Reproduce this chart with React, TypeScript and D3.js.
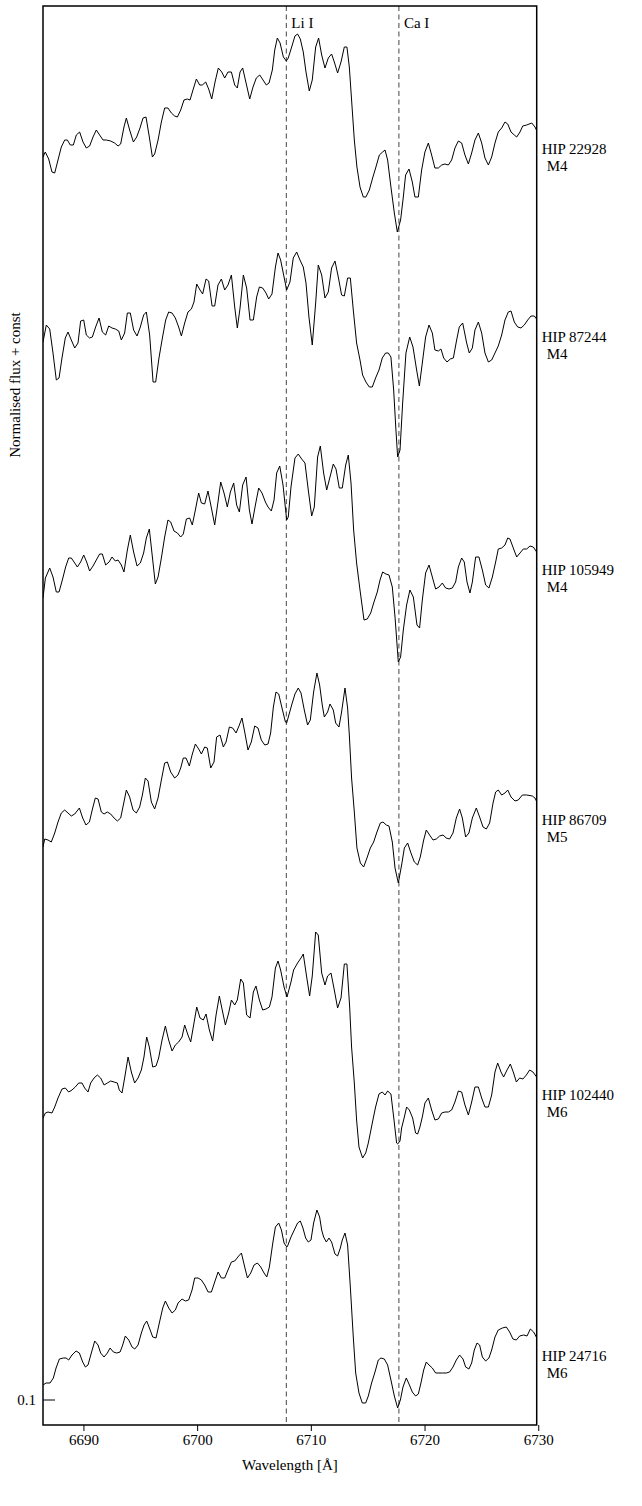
import React from 'react';
import * as d3 from 'd3';

const starNames = ['HIP 22928', 'HIP 87244', 'HIP 105949', 'HIP 86709', 'HIP 102440', 'HIP 24716'];
const spectralTypes = ['M4', 'M4', 'M4', 'M5', 'M6', 'M6'];
const offsets = [0.5, 0.27, 0.07, -0.155, -0.39, -0.61];
const lineNames = ['Li I', 'Ca I'];
const lineWaves = [6707.8, 6717.7];
const xTicks = [6690, 6700, 6710, 6720, 6730];
const yTicks = [0.1];
const xDomain = [6686.4, 6729.82];
const yDomain = [0.075, 1.494];

const hip22928: [number, number][] = [[6686.40,0.843],[6686.60,0.848],[6686.90,0.841],[6687.19,0.828],[6687.43,0.827],[6687.72,0.840],[6688.01,0.853],[6688.31,0.860],[6688.54,0.860],[6688.80,0.855],[6689.07,0.855],[6689.33,0.865],[6689.62,0.868],[6689.92,0.858],[6690.21,0.852],[6690.50,0.854],[6690.80,0.863],[6691.09,0.870],[6691.38,0.865],[6691.68,0.860],[6691.97,0.860],[6692.35,0.859],[6692.70,0.857],[6693.00,0.854],[6693.23,0.856],[6693.52,0.873],[6693.73,0.882],[6694.02,0.870],[6694.35,0.858],[6694.64,0.863],[6694.93,0.872],[6695.20,0.882],[6695.46,0.883],[6695.75,0.863],[6696.02,0.843],[6696.22,0.846],[6696.52,0.860],[6696.81,0.878],[6697.10,0.892],[6697.39,0.892],[6697.69,0.887],[6697.98,0.884],[6698.22,0.883],[6698.51,0.890],[6698.80,0.900],[6699.10,0.901],[6699.33,0.900],[6699.59,0.910],[6699.89,0.921],[6700.18,0.915],[6700.41,0.915],[6700.71,0.918],[6700.97,0.911],[6701.24,0.901],[6701.53,0.918],[6701.82,0.932],[6702.12,0.928],[6702.38,0.922],[6702.67,0.928],[6702.97,0.928],[6703.26,0.915],[6703.49,0.912],[6703.73,0.928],[6703.96,0.932],[6704.26,0.917],[6704.58,0.901],[6704.87,0.913],[6705.16,0.922],[6705.46,0.925],[6705.75,0.920],[6706.04,0.915],[6706.28,0.917],[6706.57,0.930],[6706.78,0.950],[6707.01,0.962],[6707.25,0.957],[6707.54,0.943],[6707.80,0.939],[6707.97,0.942],[6708.27,0.953],[6708.56,0.964],[6708.79,0.966],[6709.03,0.961],[6709.29,0.948],[6709.53,0.928],[6709.82,0.909],[6710.08,0.920],[6710.38,0.953],[6710.64,0.962],[6710.91,0.945],[6711.20,0.932],[6711.49,0.942],[6711.78,0.946],[6712.02,0.938],[6712.31,0.927],[6712.61,0.938],[6712.90,0.953],[6713.13,0.953],[6713.34,0.933],[6713.54,0.900],[6713.78,0.860],[6714.01,0.833],[6714.28,0.813],[6714.57,0.803],[6714.80,0.803],[6715.10,0.810],[6715.39,0.822],[6715.68,0.833],[6715.98,0.845],[6716.27,0.848],[6716.48,0.850],[6716.71,0.840],[6717.00,0.813],[6717.30,0.787],[6717.56,0.768],[6717.85,0.780],[6718.09,0.803],[6718.29,0.825],[6718.59,0.831],[6718.88,0.818],[6719.11,0.803],[6719.41,0.803],[6719.70,0.830],[6719.99,0.848],[6720.29,0.857],[6720.58,0.845],[6720.87,0.832],[6721.17,0.832],[6721.46,0.835],[6721.75,0.836],[6722.05,0.835],[6722.34,0.840],[6722.63,0.852],[6722.93,0.859],[6723.22,0.857],[6723.51,0.845],[6723.81,0.836],[6724.10,0.847],[6724.39,0.860],[6724.69,0.867],[6724.98,0.857],[6725.27,0.842],[6725.57,0.835],[6725.86,0.843],[6726.15,0.857],[6726.44,0.868],[6726.74,0.872],[6727.03,0.878],[6727.27,0.876],[6727.56,0.868],[6727.85,0.865],[6728.06,0.863],[6728.35,0.868],[6728.59,0.874],[6728.94,0.875],[6729.38,0.877],[6729.67,0.873],[6729.88,0.868]];

const hip87244: [number, number][] = [[6686.40,0.888],[6686.69,0.905],[6686.99,0.901],[6687.28,0.877],[6687.57,0.850],[6687.81,0.852],[6688.07,0.872],[6688.36,0.892],[6688.60,0.898],[6688.89,0.890],[6689.19,0.882],[6689.48,0.887],[6689.71,0.909],[6689.98,0.910],[6690.21,0.895],[6690.50,0.892],[6690.74,0.893],[6691.03,0.903],[6691.33,0.912],[6691.62,0.898],[6691.91,0.895],[6692.18,0.904],[6692.47,0.902],[6692.76,0.901],[6693.06,0.899],[6693.29,0.890],[6693.58,0.897],[6693.82,0.917],[6694.08,0.917],[6694.37,0.900],[6694.67,0.894],[6694.96,0.903],[6695.25,0.915],[6695.49,0.918],[6695.78,0.895],[6696.08,0.848],[6696.31,0.848],[6696.60,0.872],[6696.90,0.892],[6697.19,0.910],[6697.45,0.918],[6697.75,0.917],[6698.04,0.912],[6698.33,0.903],[6698.57,0.894],[6698.86,0.907],[6699.15,0.918],[6699.45,0.921],[6699.68,0.928],[6699.92,0.946],[6700.21,0.940],[6700.44,0.936],[6700.74,0.951],[6700.97,0.949],[6701.27,0.924],[6701.50,0.924],[6701.79,0.945],[6702.09,0.951],[6702.38,0.940],[6702.67,0.945],[6702.97,0.955],[6703.26,0.923],[6703.49,0.902],[6703.73,0.922],[6704.02,0.955],[6704.31,0.942],[6704.61,0.910],[6704.90,0.910],[6705.19,0.933],[6705.43,0.943],[6705.72,0.942],[6706.01,0.937],[6706.25,0.931],[6706.54,0.936],[6706.84,0.963],[6707.07,0.977],[6707.30,0.970],[6707.60,0.953],[6707.83,0.940],[6708.12,0.948],[6708.41,0.972],[6708.71,0.978],[6709.00,0.970],[6709.29,0.963],[6709.53,0.947],[6709.79,0.913],[6710.08,0.885],[6710.38,0.927],[6710.61,0.965],[6710.91,0.955],[6711.20,0.932],[6711.49,0.938],[6711.78,0.962],[6712.08,0.969],[6712.37,0.953],[6712.66,0.935],[6712.90,0.934],[6713.19,0.952],[6713.43,0.952],[6713.69,0.920],[6713.98,0.887],[6714.28,0.870],[6714.51,0.855],[6714.80,0.848],[6715.10,0.843],[6715.36,0.843],[6715.65,0.852],[6715.95,0.860],[6716.24,0.872],[6716.53,0.877],[6716.77,0.877],[6717.00,0.873],[6717.24,0.840],[6717.44,0.800],[6717.59,0.773],[6717.80,0.780],[6718.03,0.827],[6718.32,0.877],[6718.65,0.893],[6718.94,0.883],[6719.26,0.860],[6719.50,0.844],[6719.76,0.867],[6720.05,0.893],[6720.35,0.905],[6720.64,0.897],[6720.87,0.880],[6721.17,0.879],[6721.40,0.881],[6721.64,0.872],[6721.93,0.868],[6722.22,0.871],[6722.49,0.872],[6722.78,0.890],[6723.01,0.903],[6723.31,0.907],[6723.66,0.887],[6723.89,0.877],[6724.16,0.882],[6724.39,0.900],[6724.69,0.908],[6724.98,0.897],[6725.27,0.877],[6725.57,0.868],[6725.86,0.870],[6726.15,0.877],[6726.44,0.884],[6726.74,0.895],[6727.03,0.910],[6727.32,0.918],[6727.56,0.919],[6727.85,0.908],[6728.15,0.903],[6728.44,0.902],[6728.73,0.905],[6729.03,0.910],[6729.32,0.914],[6729.61,0.914],[6729.88,0.910]];

const hip105949: [number, number][] = [[6686.40,0.832],[6686.61,0.852],[6686.99,0.862],[6687.28,0.853],[6687.57,0.838],[6687.81,0.838],[6688.10,0.850],[6688.39,0.863],[6688.66,0.872],[6688.89,0.872],[6689.19,0.867],[6689.42,0.863],[6689.71,0.868],[6689.98,0.875],[6690.24,0.868],[6690.50,0.859],[6690.80,0.864],[6691.09,0.870],[6691.38,0.876],[6691.62,0.876],[6691.91,0.865],[6692.21,0.868],[6692.47,0.873],[6692.76,0.869],[6693.00,0.870],[6693.29,0.865],[6693.52,0.858],[6693.82,0.880],[6694.08,0.895],[6694.37,0.878],[6694.67,0.864],[6694.96,0.867],[6695.25,0.877],[6695.49,0.892],[6695.75,0.901],[6696.02,0.873],[6696.28,0.846],[6696.52,0.853],[6696.81,0.872],[6697.10,0.893],[6697.39,0.910],[6697.63,0.908],[6697.92,0.899],[6698.22,0.897],[6698.51,0.893],[6698.74,0.896],[6699.01,0.911],[6699.30,0.912],[6699.53,0.905],[6699.80,0.920],[6700.09,0.937],[6700.33,0.927],[6700.62,0.926],[6700.91,0.939],[6701.21,0.922],[6701.50,0.905],[6701.79,0.928],[6702.03,0.948],[6702.32,0.937],[6702.61,0.923],[6702.88,0.938],[6703.17,0.947],[6703.43,0.925],[6703.67,0.918],[6703.96,0.945],[6704.26,0.953],[6704.55,0.920],[6704.78,0.906],[6705.08,0.925],[6705.37,0.942],[6705.66,0.937],[6705.96,0.928],[6706.19,0.923],[6706.48,0.919],[6706.72,0.930],[6706.95,0.957],[6707.22,0.964],[6707.51,0.945],[6707.83,0.910],[6707.97,0.913],[6708.21,0.943],[6708.56,0.972],[6708.85,0.976],[6709.15,0.971],[6709.44,0.967],[6709.73,0.940],[6710.03,0.914],[6710.26,0.923],[6710.55,0.973],[6710.79,0.984],[6711.08,0.957],[6711.35,0.940],[6711.64,0.953],[6711.93,0.966],[6712.17,0.961],[6712.46,0.942],[6712.72,0.942],[6713.02,0.965],[6713.25,0.975],[6713.49,0.947],[6713.72,0.900],[6713.98,0.867],[6714.28,0.840],[6714.63,0.810],[6714.92,0.811],[6715.22,0.817],[6715.51,0.828],[6715.80,0.838],[6716.04,0.850],[6716.27,0.858],[6716.56,0.856],[6716.83,0.855],[6717.12,0.843],[6717.36,0.813],[6717.65,0.768],[6717.85,0.773],[6718.09,0.800],[6718.38,0.825],[6718.67,0.840],[6718.97,0.833],[6719.29,0.805],[6719.52,0.802],[6719.76,0.830],[6720.05,0.857],[6720.35,0.865],[6720.64,0.853],[6720.93,0.841],[6721.23,0.843],[6721.52,0.847],[6721.81,0.842],[6722.11,0.841],[6722.40,0.842],[6722.69,0.848],[6722.93,0.863],[6723.22,0.872],[6723.45,0.868],[6723.69,0.848],[6723.95,0.837],[6724.16,0.848],[6724.45,0.873],[6724.74,0.873],[6725.04,0.860],[6725.33,0.845],[6725.62,0.842],[6725.92,0.853],[6726.21,0.868],[6726.44,0.881],[6726.74,0.882],[6727.03,0.885],[6727.27,0.892],[6727.47,0.891],[6727.76,0.882],[6728.06,0.873],[6728.35,0.877],[6728.64,0.881],[6728.94,0.881],[6729.23,0.884],[6729.52,0.883],[6729.88,0.877]];

const hip86709: [number, number][] = [[6686.40,0.808],[6686.55,0.816],[6686.84,0.815],[6687.13,0.813],[6687.43,0.822],[6687.72,0.833],[6688.01,0.842],[6688.31,0.845],[6688.60,0.842],[6688.89,0.839],[6689.19,0.841],[6689.60,0.847],[6689.89,0.837],[6690.18,0.830],[6690.48,0.833],[6690.77,0.847],[6691.00,0.857],[6691.24,0.856],[6691.53,0.843],[6691.77,0.841],[6692.06,0.843],[6692.35,0.841],[6692.65,0.837],[6692.94,0.834],[6693.23,0.837],[6693.52,0.853],[6693.73,0.865],[6694.02,0.858],[6694.32,0.845],[6694.61,0.842],[6694.90,0.848],[6695.14,0.860],[6695.40,0.877],[6695.64,0.874],[6695.93,0.853],[6696.22,0.846],[6696.52,0.857],[6696.81,0.875],[6697.10,0.892],[6697.34,0.893],[6697.63,0.883],[6697.98,0.877],[6698.27,0.880],[6698.51,0.887],[6698.74,0.897],[6698.98,0.897],[6699.27,0.889],[6699.51,0.900],[6699.80,0.911],[6700.09,0.906],[6700.33,0.901],[6700.62,0.908],[6700.85,0.907],[6701.15,0.887],[6701.44,0.893],[6701.67,0.918],[6701.97,0.920],[6702.26,0.908],[6702.50,0.913],[6702.79,0.928],[6703.08,0.927],[6703.38,0.922],[6703.67,0.930],[6703.90,0.937],[6704.14,0.923],[6704.43,0.905],[6704.72,0.913],[6705.02,0.929],[6705.31,0.927],[6705.60,0.915],[6705.90,0.910],[6706.19,0.911],[6706.42,0.922],[6706.66,0.948],[6706.89,0.963],[6707.13,0.961],[6707.42,0.947],[6707.72,0.933],[6707.83,0.932],[6708.27,0.950],[6708.56,0.961],[6708.85,0.967],[6709.09,0.962],[6709.38,0.945],[6709.67,0.930],[6709.91,0.935],[6710.20,0.963],[6710.49,0.982],[6710.73,0.970],[6710.96,0.950],[6711.14,0.938],[6711.43,0.943],[6711.64,0.951],[6711.93,0.945],[6712.14,0.932],[6712.43,0.928],[6712.66,0.943],[6712.96,0.967],[6713.19,0.947],[6713.34,0.920],[6713.54,0.877],[6713.78,0.843],[6714.01,0.807],[6714.31,0.792],[6714.60,0.788],[6714.89,0.797],[6715.19,0.807],[6715.48,0.813],[6715.77,0.823],[6716.07,0.832],[6716.30,0.833],[6716.59,0.830],[6716.83,0.829],[6717.12,0.813],[6717.36,0.787],[6717.65,0.772],[6717.94,0.790],[6718.18,0.807],[6718.47,0.812],[6718.76,0.802],[6719.06,0.793],[6719.35,0.790],[6719.58,0.798],[6719.88,0.815],[6720.11,0.825],[6720.40,0.820],[6720.70,0.815],[6720.99,0.816],[6721.28,0.819],[6721.58,0.820],[6721.87,0.817],[6722.16,0.816],[6722.46,0.822],[6722.75,0.837],[6723.04,0.846],[6723.28,0.837],[6723.57,0.818],[6723.86,0.822],[6724.16,0.837],[6724.51,0.847],[6724.80,0.838],[6725.10,0.828],[6725.39,0.826],[6725.68,0.832],[6725.98,0.852],[6726.21,0.863],[6726.44,0.865],[6726.74,0.860],[6727.03,0.862],[6727.27,0.865],[6727.56,0.858],[6727.91,0.854],[6728.20,0.855],[6728.56,0.860],[6728.94,0.860],[6729.44,0.859],[6729.67,0.857],[6729.88,0.852]];

const hip102440: [number, number][] = [[6686.40,0.772],[6686.61,0.777],[6686.84,0.778],[6687.19,0.777],[6687.43,0.783],[6687.72,0.792],[6688.07,0.801],[6688.36,0.802],[6688.66,0.798],[6688.95,0.800],[6689.24,0.803],[6689.54,0.807],[6689.83,0.807],[6690.06,0.802],[6690.36,0.798],[6690.59,0.807],[6690.89,0.812],[6691.18,0.815],[6691.47,0.812],[6691.77,0.805],[6692.06,0.807],[6692.35,0.809],[6692.65,0.808],[6692.94,0.807],[6693.11,0.800],[6693.35,0.797],[6693.58,0.812],[6693.88,0.833],[6694.17,0.818],[6694.46,0.807],[6694.76,0.812],[6695.05,0.820],[6695.28,0.833],[6695.52,0.853],[6695.75,0.843],[6696.05,0.823],[6696.34,0.824],[6696.57,0.832],[6696.87,0.850],[6697.16,0.864],[6697.45,0.850],[6697.75,0.839],[6698.04,0.845],[6698.33,0.848],[6698.63,0.853],[6698.86,0.865],[6699.15,0.855],[6699.39,0.848],[6699.68,0.867],[6699.92,0.883],[6700.21,0.872],[6700.50,0.870],[6700.74,0.876],[6701.03,0.860],[6701.32,0.849],[6701.62,0.875],[6701.91,0.894],[6702.20,0.878],[6702.44,0.865],[6702.73,0.877],[6702.97,0.890],[6703.26,0.885],[6703.49,0.890],[6703.79,0.911],[6704.02,0.907],[6704.31,0.875],[6704.61,0.872],[6704.90,0.898],[6705.13,0.904],[6705.43,0.890],[6705.72,0.880],[6706.01,0.881],[6706.31,0.883],[6706.54,0.893],[6706.84,0.922],[6707.07,0.929],[6707.30,0.920],[6707.60,0.903],[6707.86,0.893],[6708.21,0.908],[6708.44,0.920],[6708.79,0.927],[6709.09,0.932],[6709.29,0.936],[6709.59,0.913],[6709.85,0.894],[6710.08,0.914],[6710.38,0.958],[6710.61,0.955],[6710.91,0.917],[6711.20,0.905],[6711.43,0.914],[6711.73,0.917],[6712.02,0.900],[6712.31,0.882],[6712.61,0.892],[6712.90,0.926],[6713.13,0.926],[6713.37,0.883],[6713.54,0.843],[6713.78,0.807],[6713.98,0.770],[6714.19,0.743],[6714.51,0.732],[6714.78,0.737],[6715.01,0.747],[6715.24,0.760],[6715.45,0.772],[6715.65,0.783],[6715.95,0.796],[6716.24,0.798],[6716.48,0.795],[6716.71,0.799],[6717.00,0.796],[6717.24,0.773],[6717.50,0.747],[6717.59,0.746],[6717.80,0.749],[6717.94,0.762],[6718.18,0.773],[6718.38,0.783],[6718.62,0.780],[6718.91,0.772],[6719.17,0.757],[6719.35,0.756],[6719.55,0.763],[6719.76,0.773],[6719.99,0.787],[6720.29,0.792],[6720.58,0.780],[6720.87,0.770],[6721.17,0.771],[6721.46,0.777],[6721.75,0.778],[6722.05,0.778],[6722.34,0.780],[6722.63,0.788],[6722.93,0.799],[6723.22,0.798],[6723.51,0.785],[6723.81,0.775],[6724.10,0.788],[6724.39,0.803],[6724.69,0.803],[6724.98,0.792],[6725.27,0.783],[6725.57,0.783],[6725.86,0.795],[6726.15,0.818],[6726.39,0.827],[6726.68,0.818],[6726.91,0.813],[6727.21,0.820],[6727.50,0.826],[6727.79,0.817],[6728.03,0.808],[6728.32,0.812],[6728.61,0.811],[6728.91,0.815],[6729.20,0.820],[6729.49,0.818],[6729.88,0.812]];

const hip24716: [number, number][] = [[6686.40,0.725],[6686.67,0.727],[6687.02,0.727],[6687.31,0.732],[6687.55,0.742],[6687.84,0.751],[6688.19,0.752],[6688.43,0.752],[6688.66,0.750],[6688.95,0.755],[6689.31,0.759],[6689.60,0.757],[6689.89,0.748],[6690.13,0.743],[6690.36,0.745],[6690.65,0.757],[6690.95,0.769],[6691.24,0.765],[6691.47,0.757],[6691.77,0.753],[6692.06,0.757],[6692.30,0.762],[6692.59,0.758],[6692.88,0.757],[6693.18,0.758],[6693.41,0.765],[6693.64,0.774],[6693.94,0.770],[6694.23,0.763],[6694.47,0.761],[6694.76,0.765],[6695.05,0.777],[6695.29,0.785],[6695.52,0.789],[6695.76,0.782],[6696.05,0.773],[6696.34,0.772],[6696.63,0.787],[6696.93,0.802],[6697.16,0.809],[6697.46,0.802],[6697.75,0.797],[6698.04,0.800],[6698.28,0.807],[6698.63,0.811],[6698.92,0.809],[6699.21,0.810],[6699.51,0.820],[6699.74,0.832],[6700.04,0.832],[6700.33,0.830],[6700.62,0.825],[6700.92,0.818],[6701.21,0.818],[6701.50,0.828],[6701.80,0.838],[6702.09,0.832],[6702.38,0.832],[6702.67,0.840],[6702.97,0.848],[6703.26,0.849],[6703.61,0.854],[6703.85,0.857],[6704.14,0.843],[6704.38,0.832],[6704.67,0.837],[6704.96,0.845],[6705.26,0.847],[6705.55,0.843],[6705.84,0.837],[6706.08,0.833],[6706.31,0.843],[6706.61,0.867],[6706.84,0.883],[6707.13,0.887],[6707.37,0.880],[6707.60,0.867],[6707.84,0.863],[6707.91,0.864],[6708.21,0.873],[6708.50,0.880],[6708.79,0.887],[6709.03,0.889],[6709.26,0.882],[6709.50,0.872],[6709.73,0.868],[6709.97,0.870],[6710.20,0.887],[6710.49,0.900],[6710.73,0.893],[6710.91,0.880],[6711.08,0.873],[6711.32,0.868],[6711.55,0.872],[6711.78,0.868],[6712.08,0.856],[6712.31,0.854],[6712.55,0.862],[6712.72,0.870],[6712.96,0.877],[6713.19,0.865],[6713.43,0.823],[6713.69,0.773],[6713.90,0.737],[6714.19,0.717],[6714.48,0.707],[6714.78,0.707],[6715.01,0.714],[6715.30,0.727],[6715.60,0.738],[6715.89,0.750],[6716.12,0.752],[6716.42,0.751],[6716.71,0.745],[6717.00,0.730],[6717.30,0.714],[6717.59,0.702],[6717.83,0.710],[6718.06,0.723],[6718.35,0.732],[6718.59,0.726],[6718.88,0.718],[6719.17,0.714],[6719.41,0.716],[6719.64,0.727],[6719.88,0.740],[6720.11,0.748],[6720.35,0.745],[6720.64,0.742],[6720.93,0.737],[6721.23,0.737],[6721.52,0.737],[6721.87,0.737],[6722.16,0.738],[6722.46,0.743],[6722.75,0.750],[6723.04,0.755],[6723.34,0.751],[6723.57,0.743],[6723.86,0.741],[6724.10,0.747],[6724.33,0.760],[6724.57,0.767],[6724.80,0.765],[6725.04,0.753],[6725.33,0.749],[6725.62,0.752],[6725.86,0.760],[6726.15,0.773],[6726.44,0.780],[6726.80,0.782],[6727.15,0.783],[6727.44,0.778],[6727.73,0.771],[6728.03,0.770],[6728.32,0.774],[6728.67,0.775],[6728.97,0.774],[6729.26,0.781],[6729.55,0.778],[6729.88,0.771]];

const spectra = [hip22928, hip87244, hip105949, hip86709, hip102440, hip24716];

const W = 642;
const H = 1506;
const plotLeft = 43;
const plotRight = 536.7;
const plotTop = 6;
const plotBottom = 1425;
const FONT = '"Liberation Serif", "Times New Roman", serif';

export default function App() {
  const x = d3.scaleLinear().domain(xDomain).range([plotLeft, plotRight]);
  const y = d3.scaleLinear().domain(yDomain).range([plotBottom, plotTop]);

  const lineGen = (off: number) =>
    d3
      .line<[number, number]>()
      .x((d) => x(d[0]))
      .y((d) => y(d[1] + off));

  const txt = { fontFamily: FONT, fontSize: 15, fill: '#000' } as const;

  return (
    <svg
      width={W}
      height={H}
      style={{ position: 'absolute', left: 0, top: 0, display: 'block', background: '#fff' }}
    >
      <defs>
        <clipPath id="plotClip">
          <rect x={plotLeft} y={plotTop} width={plotRight - plotLeft} height={plotBottom - plotTop} />
        </clipPath>
      </defs>
      <rect x={0} y={0} width={W} height={H} fill="#fff" />

      {lineWaves.map((w, i) => (
        <g key={lineNames[i]}>
          <line
            x1={x(w)}
            x2={x(w)}
            y1={plotTop}
            y2={plotBottom}
            stroke="#444"
            strokeWidth={1}
            strokeDasharray="5,3.5"
          />
          <text x={x(w) + 5} y={plotTop + 22} style={txt}>
            {lineNames[i]}
          </text>
        </g>
      ))}

      <g clipPath="url(#plotClip)">
        {spectra.map((s, i) => (
          <path key={starNames[i]} d={lineGen(offsets[i])(s) || ''} fill="none" stroke="#000" strokeWidth={1} />
        ))}
      </g>

      {spectra.map((s, i) => {
        const last = s[s.length - 1];
        const yy = y(last[1] + offsets[i]);
        return (
          <g key={'lab' + i}>
            <text x={plotRight + 5} y={yy + 22} style={txt}>
              {starNames[i]}
            </text>
            <text x={plotRight + 10} y={yy + 39} style={txt}>
              {spectralTypes[i]}
            </text>
          </g>
        );
      })}

      <rect
        x={plotLeft}
        y={plotTop}
        width={plotRight - plotLeft}
        height={plotBottom - plotTop}
        fill="none"
        stroke="#000"
        strokeWidth={1.5}
      />

      {xTicks.map((t) => (
        <g key={t}>
          <line x1={x(t)} x2={x(t)} y1={plotBottom} y2={plotBottom + 6} stroke="#000" strokeWidth={1} />
          <text x={x(t)} y={plotBottom + 20} textAnchor="middle" style={txt}>
            {t}
          </text>
        </g>
      ))}

      {yTicks.map((t) => (
        <g key={t}>
          <line x1={plotLeft} x2={plotLeft + 12} y1={y(t)} y2={y(t)} stroke="#000" strokeWidth={1} />
          <text x={plotLeft - 7} y={y(t) + 5} textAnchor="end" style={txt}>
            {t}
          </text>
        </g>
      ))}

      <text x={(plotLeft + plotRight) / 2} y={plotBottom + 45} textAnchor="middle" style={txt}>
        Wavelength [Å]
      </text>
      <text transform={`translate(20, 385) rotate(-90)`} textAnchor="middle" style={txt}>
        Normalised flux + const
      </text>
    </svg>
  );
}
